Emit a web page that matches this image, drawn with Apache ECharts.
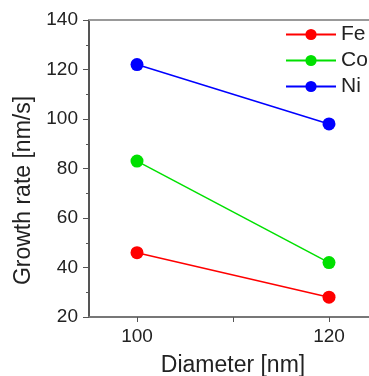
<!DOCTYPE html>
<html>
<head>
<meta charset="utf-8">
<script src="https://cdn.jsdelivr.net/npm/echarts@6/dist/echarts.min.js"></script>
<style>
  html, body { margin: 0; padding: 0; background: #fff; }
  #chart { width: 369px; height: 376px; }
</style>
</head>
<body>
<div id="chart"></div>
<script>
// Growth rate versus nanowire diameter for three catalysts
const diameters = [100, 120];
const feRate = [46, 28];
const coRate = [83, 42];
const niRate = [122, 98];
const seriesNames = ['Fe', 'Co', 'Ni'];
const seriesColors = ['#ff0000', '#00e000', '#0000ff'];
const yTicks = [20, 40, 60, 80, 100, 120, 140];
const xTickLabels = [100, 120];
const xTickMarks = [100, 110, 120];

const rates = [feRate, coRate, niRate];
const FONT = '"Liberation Sans", Arial, sans-serif';
const TEXT = '#222';

const chart = echarts.init(document.getElementById('chart'), null, { renderer: 'canvas' });

chart.setOption({
  animation: false,
  backgroundColor: '#ffffff',
  textStyle: { fontFamily: FONT },
  // The plot frame runs past the right edge of the canvas on purpose.
  grid: { left: 89, top: 20, width: 288, height: 297, containLabel: false, outerBoundsMode: 'none' },
  legend: {
    orient: 'vertical',
    left: 285,
    top: 24,
    padding: 0,
    itemWidth: 50,
    itemHeight: 14,
    itemGap: 5,
    data: seriesNames,
    textStyle: { fontFamily: FONT, fontSize: 21, color: TEXT }
  },
  xAxis: [
    {
      type: 'value',
      position: 'bottom',
      min: 95,
      max: 125,
      name: 'Diameter [nm]',
      nameLocation: 'middle',
      nameGap: 37,
      nameTextStyle: { fontFamily: FONT, fontSize: 23, color: TEXT },
      axisLine: { show: true, lineStyle: { color: '#777', width: 2 } },
      axisTick: { show: true, inside: false, length: 5, customValues: xTickMarks, lineStyle: { color: '#555', width: 1 } },
      axisLabel: { show: true, margin: 10, customValues: xTickLabels, fontFamily: FONT, fontSize: 19, color: TEXT },
      splitLine: { show: false }
    },
    {
      type: 'value',
      position: 'top',
      min: 95,
      max: 125,
      axisLine: { show: true, lineStyle: { color: '#999', width: 2 } },
      axisTick: { show: false },
      axisLabel: { show: false },
      splitLine: { show: false }
    }
  ],
  yAxis: {
    type: 'value',
    min: yTicks[0],
    max: yTicks[yTicks.length - 1],
    interval: 20,
    name: 'Growth rate [nm/s]',
    nameLocation: 'middle',
    nameGap: 52,
    nameTextStyle: { fontFamily: FONT, fontSize: 23, color: TEXT, padding: [0, 44, 0, 0] },
    axisLine: { show: true, lineStyle: { color: '#555', width: 2 } },
    axisTick: { show: true, inside: false, length: 6, lineStyle: { color: '#555', width: 1 } },
    minorTick: { show: true, splitNumber: 2, length: 3, lineStyle: { color: '#555', width: 1 } },
    axisLabel: { margin: 11, fontFamily: FONT, fontSize: 19, color: TEXT },
    splitLine: { show: false },
    minorSplitLine: { show: false }
  },
  series: seriesNames.map((name, i) => ({
    name: name,
    type: 'line',
    xAxisIndex: 0,
    data: diameters.map((d, j) => [d, rates[i][j]]),
    symbol: 'circle',
    symbolSize: 13,
    color: seriesColors[i],
    lineStyle: { color: seriesColors[i], width: 1.5 },
    itemStyle: { color: seriesColors[i] }
  }))
});
</script>
</body>
</html>
